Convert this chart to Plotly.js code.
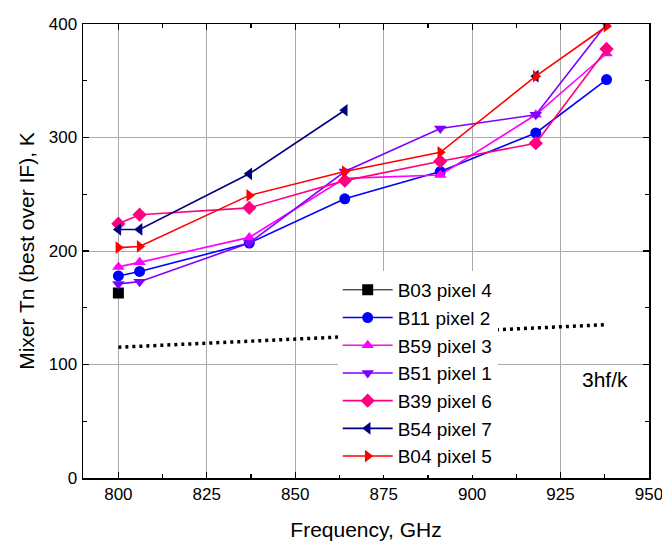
<!DOCTYPE html>
<html>
<head>
<meta charset="utf-8">
<script src="https://cdn.plot.ly/plotly-3.0.1.min.js"></script>
<style>html,body{margin:0;padding:0;background:#fff;}#chart{width:662px;height:541px;}</style>
</head>
<body>
<div id="chart"></div>
<script>
// Frequencies (GHz)
const freq = [800, 806, 837, 864, 891, 918, 938];
// Mixer noise temperatures (K)
const b03 = [163];
const b03Freq = [800];
const b11 = [178, 182, 207, 246, 270, 304, 351];
const b59 = [186, 190, 212, 264, 267, 320, 374];
const b51 = [171, 173, 207, 270, 308, 320, 400];
const b39 = [224, 232, 238, 262, 279, 295, 378];
const b54 = [219, 219, 268, 324, null, 354];
const b04 = [203, 204, 249, 270, 287, 354, 398];
// 3hf/k quantum limit line
const qlim = [115.2, 116.0, 120.5, 124.4, 128.3, 132.2, 135.1];

const names = ["B03 pixel 4","B11 pixel 2","B59 pixel 3","B51 pixel 1","B39 pixel 6","B54 pixel 7","B04 pixel 5"];
const colors = ["#000000","#0000ff","#ff00ff","#8000ff","#ff0080","#000080","#ff0000"];
const symbols = ["square","circle","triangle-up","triangle-down","diamond","triangle-left","triangle-right"];
const xs = [b03Freq, freq, freq, freq, freq, freq, freq];
const ys = [b03, b11, b59, b51, b39, b54, b04];
const widths = [1, 1.6, 1.6, 1.6, 1.6, 1.6, 1.6];

const traces = [{
  x: freq, y: qlim, mode: 'lines', showlegend: false, hoverinfo: 'skip',
  line: {color: '#000', width: 3.5, dash: '3px,4px'}
}];
names.forEach((n, i) => {
  traces.push({
    x: xs[i], y: ys[i], name: n, mode: 'lines+markers',
    connectgaps: false,
    line: {color: colors[i], width: widths[i]},
    marker: {symbol: symbols[i], color: colors[i], size: 11}
  });
});

const fam = 'Liberation Sans, Arial, sans-serif';
const axisCommon = {
  showline: true, linecolor: '#000', linewidth: 1.5, mirror: 'ticks',
  ticks: 'inside', ticklen: 6, tickcolor: '#000', tickwidth: 1.2,
  showgrid: true, gridcolor: '#aaaaaa', gridwidth: 1, zeroline: false,
  ticklabeloverflow: 'allow',
  tickfont: {family: fam, size: 17, color: '#000'}
};

const layout = {
  width: 662, height: 541,
  margin: {l: 83, r: 13, t: 24, b: 63},
  paper_bgcolor: '#fff', plot_bgcolor: '#fff',
  showlegend: true,
  font: {family: fam, color: '#000'},
  xaxis: Object.assign({}, axisCommon, {
    range: [790, 950], tick0: 800, dtick: 25,
    minor: {ticks: 'inside', dtick: 12.5, tick0: 800, ticklen: 4, tickcolor: '#000', showgrid: false},
    title: {text: 'Frequency, GHz', font: {size: 21}, standoff: 21}
  }),
  yaxis: Object.assign({}, axisCommon, {
    range: [0, 400], tick0: 0, dtick: 100, ticklabelstandoff: 1,
    minor: {ticks: 'inside', dtick: 50, ticklen: 4, tickcolor: '#000', showgrid: false},
    title: {text: 'Mixer Tn (best over IF), K', font: {size: 21}, standoff: 8}
  }),
  legend: {
    x: 0.45, y: 0.456, xanchor: 'left', yanchor: 'top',
    bgcolor: '#ffffff', borderwidth: 0,
    font: {family: fam, size: 19, color: '#000'},
    itemwidth: 50, entrywidth: 185, entrywidthmode: 'pixels'
  },
  annotations: [{
    x: 0.922, y: 0.216, xref: 'paper', yref: 'paper', text: '3hf/k', showarrow: false,
    xanchor: 'center', yanchor: 'middle',
    font: {family: fam, size: 21, color: '#000'}
  }]
};

Plotly.newPlot('chart', traces, layout, {staticPlot: true, displayModeBar: false});
</script>
</body>
</html>
